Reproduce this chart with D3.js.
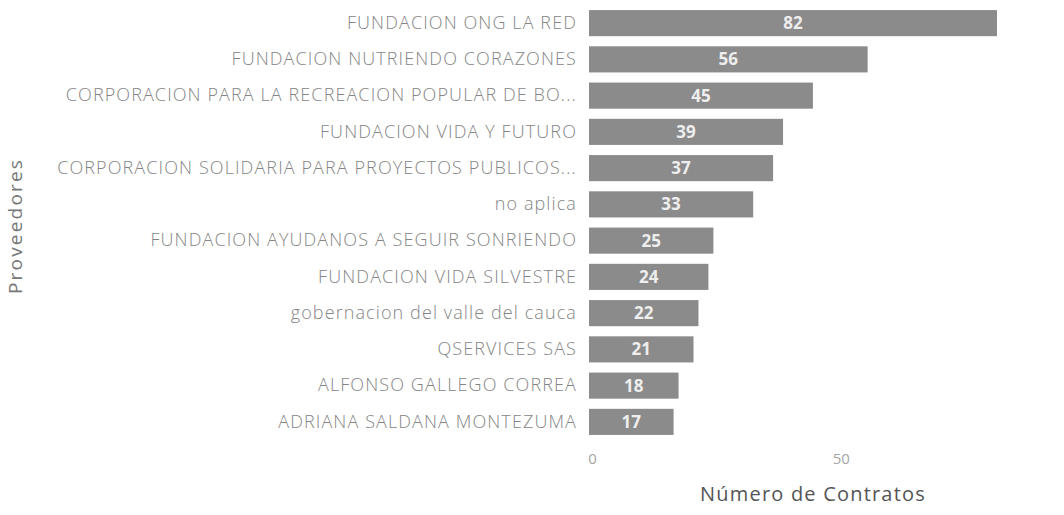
<!DOCTYPE html>
<html>
<head>
<meta charset="utf-8">
<script src="https://cdn.jsdelivr.net/npm/d3@7"></script>
<style>
    body { margin: 0; background: #fff; }
    text { font-family: "Open Sans", sans-serif; }
</style>
</head>
<body>
<div class="chart"></div>
<script>
const providers = [
    'FUNDACION ONG LA RED',
    'FUNDACION NUTRIENDO CORAZONES',
    'CORPORACION PARA LA RECREACION POPULAR DE BO...',
    'FUNDACION VIDA Y FUTURO',
    'CORPORACION SOLIDARIA PARA PROYECTOS PUBLICOS...',
    'no aplica',
    'FUNDACION AYUDANOS A SEGUIR SONRIENDO',
    'FUNDACION VIDA SILVESTRE',
    'gobernacion del valle del cauca',
    'QSERVICES SAS',
    'ALFONSO GALLEGO CORREA',
    'ADRIANA SALDANA MONTEZUMA'
];
const contracts = [82, 56, 45, 39, 37, 33, 25, 24, 22, 21, 18, 17];
const xTicks = [0, 50];

const fullWidth = 1064;
const fullHeight = 515;

const data = providers.map((p, i) => ({provider: p, value: contracts[i]}));

const svg = d3.select('.chart')
    .append('svg')
        .attr('width', fullWidth)
        .attr('height', fullHeight);

const xScale = d3.scaleLinear()
    .domain([0, 82])
    .range([589, 997]);

const yScale = d3.scaleBand()
    .domain(providers)
    .range([5, 440])
    .paddingInner(0.28)
    .paddingOuter(0.14);

// category labels
const yAxis = d3.axisLeft(yScale).tickSize(0).tickPadding(12);
svg.append('g')
    .attr('transform', `translate(${xScale(0)}, 0)`)
    .call(yAxis)
    .call(g => g.select('.domain').remove())
    .selectAll('text')
        .attr('fill', '#858585')
        .style('font-size', '18px')
        .style('font-weight', 300)
        .style('letter-spacing', '1.1px');

// x axis ticks
const xAxis = d3.axisBottom(xScale).tickValues(xTicks).tickSize(0).tickPadding(0);
svg.append('g')
    .attr('transform', 'translate(3, 453)')
    .call(xAxis)
    .call(g => g.select('.domain').remove())
    .selectAll('text')
        .attr('fill', '#a5a5a5')
        .style('font-size', '15px');

svg.selectAll('rect.bar')
    .data(data)
    .enter()
    .append('rect')
    .attr('class', 'bar')
    .attr('x', xScale(0))
    .attr('y', d => yScale(d.provider))
    .attr('width', d => xScale(d.value) - xScale(0))
    .attr('height', yScale.bandwidth())
    .attr('fill', '#8b8b8b');

svg.selectAll('text.val')
    .data(data)
    .enter()
    .append('text')
    .attr('class', 'val')
    .attr('x', d => (xScale(0) + xScale(d.value)) / 2)
    .attr('y', d => yScale(d.provider) + yScale.bandwidth() / 2)
    .attr('dy', '0.36em')
    .attr('text-anchor', 'middle')
    .attr('fill', '#eeeeee')
    .style('font-size', '17px')
    .style('font-weight', 700)
    .text(d => d.value);

// axis titles
svg.append('text')
    .attr('x', 813)
    .attr('y', 501)
    .attr('text-anchor', 'middle')
    .attr('fill', '#555')
    .style('font-size', '20px')
    .style('letter-spacing', '1.2px')
    .text('Número de Contratos');

svg.append('text')
    .attr('transform', 'translate(22, 226) rotate(-90)')
    .attr('text-anchor', 'middle')
    .attr('fill', '#777')
    .style('font-size', '19px')
    .style('letter-spacing', '2.2px')
    .text('Proveedores');
</script>
</body>
</html>
